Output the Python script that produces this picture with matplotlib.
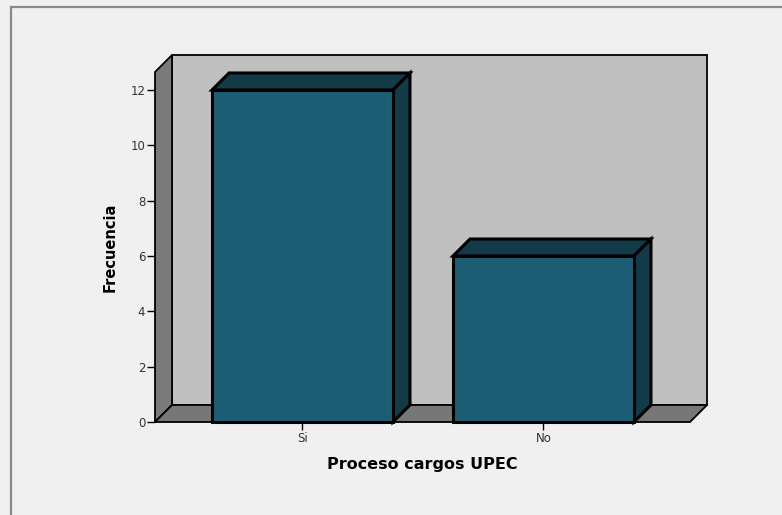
import matplotlib
matplotlib.use("Agg")
import matplotlib.pyplot as plt
from matplotlib.patches import Polygon
from matplotlib.lines import Line2D

# Data
categories = ["Si", "No"]
frequencies = [12, 6]
y_ticks = [0, 2, 4, 6, 8, 10, 12]

# Colours
bg = "#f0f0f0"
back_wall = "#c0c0c0"
side_wall = "#7a7a7a"
floor_col = "#777777"
bar_front = "#1b5d73"
bar_shade = "#123a47"

W, H, DPI = 782, 515, 100
fig = plt.figure(figsize=(W / DPI, H / DPI), dpi=DPI, facecolor=bg)

# Outer frame
fig.add_artist(Line2D([11 / W, 11 / W], [0, 1 - 7 / H], color="#8a8a8a", lw=1.6,
                      transform=fig.transFigure))
fig.add_artist(Line2D([11 / W, 1], [1 - 7 / H, 1 - 7 / H], color="#8a8a8a", lw=1.6,
                      transform=fig.transFigure))

# Front plane of the chart
ax_l, ax_r, ax_b, ax_t = 155, 690, 422, 72
ax = fig.add_axes([ax_l / W, 1 - ax_b / H, (ax_r - ax_l) / W, (ax_b - ax_t) / H])
ax.set_facecolor("none")

x = list(range(len(categories)))
x0, x1 = -0.612, 1.608
y_top = 12.65
ax.set_xlim(x0, x1)
ax.set_ylim(0, y_top)

# Depth offset (17 px) expressed in data units
depth_px = 17
dx = depth_px * (x1 - x0) / (ax_r - ax_l)
dy = depth_px * y_top / (ax_b - ax_t)

wall_kw = dict(closed=True, edgecolor="black", linewidth=1.3, clip_on=False, joinstyle="miter")
# Back wall
ax.add_patch(Polygon([(x0 + dx, dy), (x1 + dx, dy), (x1 + dx, y_top + dy), (x0 + dx, y_top + dy)],
                     facecolor=back_wall, zorder=1, **wall_kw))
# Left wall
ax.add_patch(Polygon([(x0, 0), (x0, y_top), (x0 + dx, y_top + dy), (x0 + dx, dy)],
                     facecolor=side_wall, zorder=1, **wall_kw))
# Floor
ax.add_patch(Polygon([(x0, 0), (x1, 0), (x1 + dx, dy), (x0 + dx, dy)],
                     facecolor=floor_col, zorder=1, **wall_kw))

# Bars: front faces plus shaded top and side faces
bw = 0.751
bars = ax.bar(x, frequencies, width=bw, color=bar_front, edgecolor="black",
              linewidth=2.2, zorder=3, clip_on=False)
for xi, v in zip(x, frequencies):
    l, r = xi - bw / 2, xi + bw / 2
    face_kw = dict(closed=True, facecolor=bar_shade, edgecolor="black", linewidth=2.2,
                   clip_on=False, zorder=2.5, joinstyle="miter")
    ax.add_patch(Polygon([(l, v), (r, v), (r + dx, v + dy), (l + dx, v + dy)], **face_kw))
    ax.add_patch(Polygon([(r, 0), (r, v), (r + dx, v + dy), (r + dx, dy)], **face_kw))

# Axes styling
for s in ax.spines.values():
    s.set_visible(False)
ax.set_yticks(y_ticks)
ax.set_xticks(x)
ax.set_xticklabels(categories)
ax.tick_params(axis="y", length=6, width=1, color="black", labelcolor="#333333",
               labelsize=8.5, pad=1)
ax.tick_params(axis="x", length=6, width=1, color="black", labelcolor="#333333",
               labelsize=8.5, pad=1)

ax.set_xlabel("Proceso cargos UPEC", fontsize=11.5, fontweight="bold", labelpad=9)
ax.set_ylabel("Frecuencia", fontsize=10.5, fontweight="bold", labelpad=9)

fig.savefig("out.png", dpi=DPI, facecolor=bg)
